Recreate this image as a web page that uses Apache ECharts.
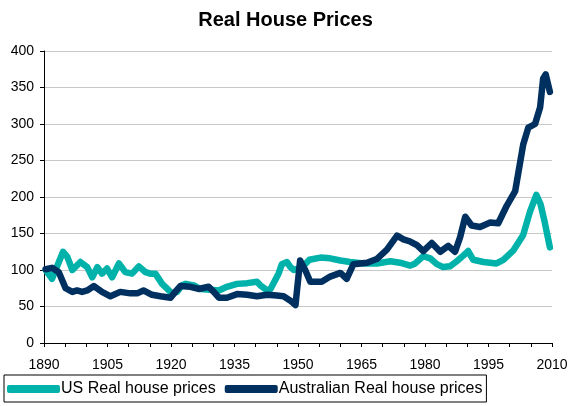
<!DOCTYPE html>
<html>
<head>
<meta charset="utf-8">
<script src="https://cdn.jsdelivr.net/npm/echarts@6/dist/echarts.min.js"></script>
<style>
  html, body { margin: 0; padding: 0; background: #fff; }
  #chart { width: 571px; height: 406px; }
</style>
</head>
<body>
<div id="chart"></div>
<script>
// data (year, index value)
const usYears = [1890.4, 1891.9, 1894.5, 1895.5, 1896.7, 1898.6, 1900.2, 1901.4, 1902.6, 1903.7,
  1904.9, 1906.1, 1907.7, 1909.2, 1910.8, 1912.4, 1914, 1915.1, 1916.3, 1917.9,
  1919.5, 1920.3, 1921.4, 1922.6, 1923.5, 1925.4, 1926.9, 1929.3, 1931.3, 1933.2,
  1935.6, 1938, 1940.3, 1941.1, 1942.7, 1943.5, 1945.4, 1946.2, 1947.4, 1948.2,
  1949, 1951, 1952.7, 1955.3, 1957.6, 1960, 1962.3, 1965.5, 1968.6, 1971.8,
  1974.1, 1976.5, 1977.7, 1979.6, 1981.2, 1982.8, 1984.3, 1985.9, 1987.5, 1989.1,
  1990.2, 1991.4, 1993.8, 1996.9, 1998.5, 2000.9, 2003.2, 2004.8, 2006.3, 2007.3,
  2008.3, 2009.5];
const usPrices = [100, 88, 125, 118, 100, 111, 104, 90, 104, 95,
  102, 90, 109, 97, 95, 105, 97, 95, 95, 81,
  72, 68, 70, 79, 81, 79, 74, 73, 72, 77,
  81, 82, 84, 79, 72, 74, 95, 108, 111, 104,
  100, 104, 114, 117, 116, 113, 111, 109, 109, 112,
  110, 106, 109, 119, 116, 108, 104, 105, 112, 120,
  126, 114, 111, 109, 114, 127, 148, 180, 203, 190,
  165, 131];

const auYears = [1890.4, 1891.9, 1893.5, 1895.1, 1896.7, 1897.8, 1899, 1900.2, 1901.8, 1903.7,
  1905.7, 1908, 1910.4, 1912, 1913.5, 1915.5, 1917.5, 1919.9, 1921, 1922.2,
  1924.6, 1926.5, 1928.9, 1930.1, 1931.3, 1933.2, 1935.6, 1938, 1940.3, 1942.7,
  1945, 1946.6, 1948.2, 1949.4, 1950.5, 1951.7, 1952.9, 1955.6, 1957.6, 1960,
  1961.5, 1963.1, 1966.3, 1968.6, 1971, 1973.4, 1974.9, 1976.5, 1978.1, 1979.6,
  1981.6, 1983.6, 1985.5, 1987.1, 1988.3, 1989.5, 1991, 1993, 1995.4, 1997.3,
  1999.3, 2001.3, 2003.2, 2004.4, 2006, 2007.2, 2007.9, 2008.5, 2009.5];
const auPrices = [101, 103, 97, 75, 70, 72, 70, 72, 78, 70,
  64, 70, 68, 68, 72, 66, 64, 62, 70, 78,
  77, 74, 77, 70, 62, 62, 67, 66, 64, 66,
  65, 64, 58, 52, 113, 100, 84, 84, 91, 96,
  88, 108, 110, 115, 128, 147, 142, 139, 134, 126,
  137, 125, 133, 125, 145, 173, 161, 159, 165, 164,
  188, 208, 272, 295, 300, 323, 362, 368, 344];

const seriesNames = ['US Real house prices', 'Australian Real house prices'];
const seriesColors = ['#00b2a9', '#00305f'];

const font = 'Liberation Sans, Arial, sans-serif';
const pairs = (xs, ys) => xs.map((x, i) => [x, ys[i]]);

const chart = echarts.init(document.getElementById('chart'));
chart.setOption({
  animation: false,
  title: {
    text: 'Real House Prices',
    left: 'center',
    top: 5,
    textStyle: { fontFamily: font, fontSize: 20, fontWeight: 'bold', color: '#000' }
  },
  legend: {
    data: seriesNames,
    left: 4,
    top: 375,
    icon: 'roundRect',
    itemWidth: 53,
    itemHeight: 8,
    itemGap: 9,
    padding: [6, 4, 5, 3],
    borderColor: '#000',
    borderWidth: 1,
    borderRadius: 0,
    textStyle: { fontFamily: font, fontSize: 16, color: '#000', padding: [0, 0, 0, -4] }
  },
  grid: { left: 44, right: 19, top: 51, bottom: 63 },
  xAxis: {
    type: 'value',
    min: 1890,
    max: 2010,
    interval: 5,
    axisLine: { lineStyle: { color: '#000' } },
    axisTick: { show: true, length: 4, lineStyle: { color: '#000' } },
    splitLine: { show: false },
    axisLabel: {
      fontFamily: font, fontSize: 14, color: '#000', margin: 15,
      formatter: v => ((v - 1890) % 15 === 0 ? String(v) : '')
    }
  },
  yAxis: {
    type: 'value',
    min: 0,
    max: 400,
    interval: 50,
    axisLine: { show: true, lineStyle: { color: '#000' } },
    axisTick: { show: true, length: 4, lineStyle: { color: '#000' } },
    splitLine: { lineStyle: { color: '#c8c8c8' } },
    axisLabel: { fontFamily: font, fontSize: 14, color: '#000', margin: 10 }
  },
  series: [
    {
      name: seriesNames[0],
      type: 'line',
      showSymbol: false,
      color: seriesColors[0],
      lineStyle: { width: 6.5, cap: 'round', join: 'round' },
      data: pairs(usYears, usPrices)
    },
    {
      name: seriesNames[1],
      type: 'line',
      showSymbol: false,
      color: seriesColors[1],
      lineStyle: { width: 6.5, cap: 'round', join: 'round' },
      data: pairs(auYears, auPrices)
    }
  ]
});
</script>
</body>
</html>
